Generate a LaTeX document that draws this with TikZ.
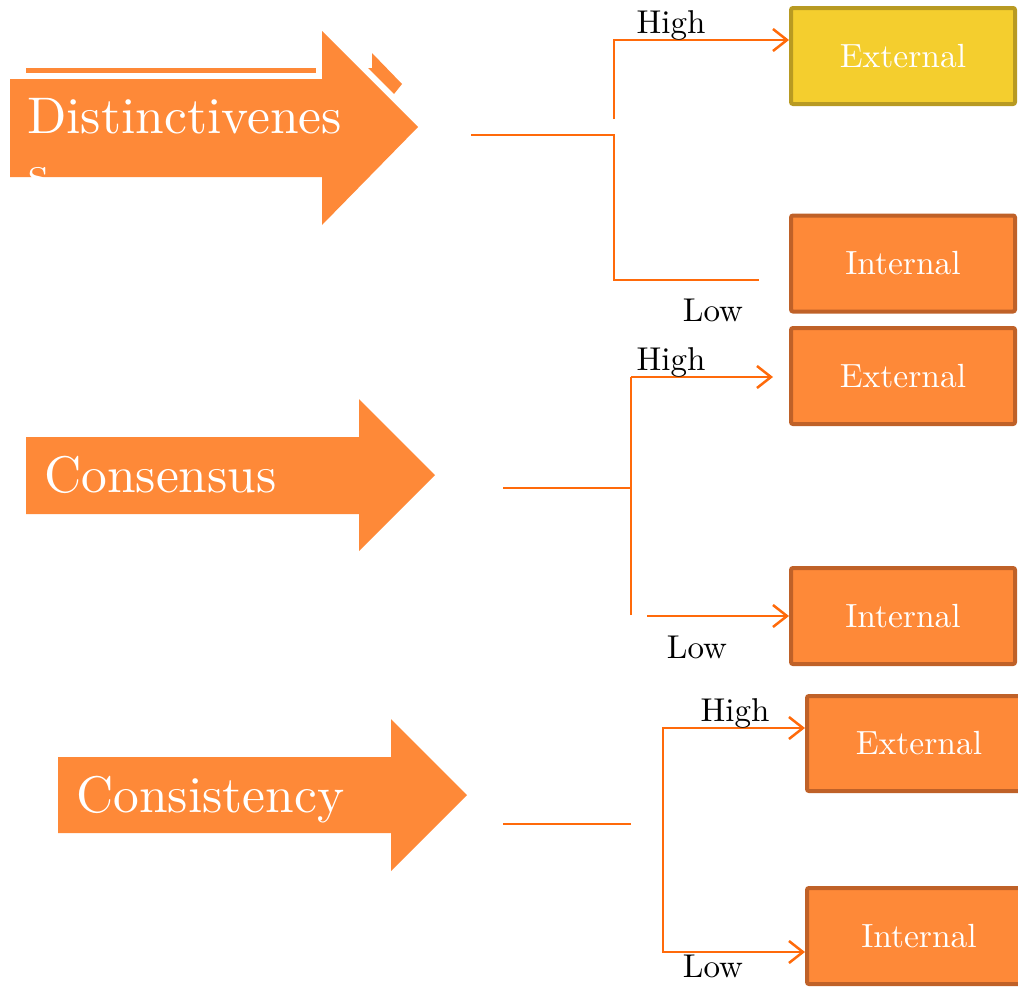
\documentclass[tikz,border=0pt]{standalone}
\usetikzlibrary{arrows.meta}
\definecolor{arrfill}{RGB}{254,137,56}
\definecolor{boxline}{RGB}{191,97,40}
\definecolor{yelfill}{RGB}{244,206,46}
\definecolor{yelline}{RGB}{184,154,34}
\definecolor{conn}{RGB}{255,106,10}
\font\bigrm="[lmroman10-regular]:mapping=tex-text" at 51.5pt
\font\boxrm="[lmroman10-regular]:mapping=tex-text" at 33.5pt
\font\lblrm="[lmroman10-regular]:mapping=tex-text" at 33pt
\tikzset{
  box/.style={draw=boxline, fill=arrfill, line width=4pt, rounded corners=2pt,
    text=white, font=\boxrm, inner sep=0pt,
    minimum width=224pt, minimum height=96pt},
  yelbox/.style={box, draw=yelline, fill=yelfill},
  bigtext/.style={text=white, font=\bigrm, inner sep=0pt, anchor=base west},
  lbl/.style={text=black, font=\lblrm, inner sep=0pt, anchor=base},
  conline/.style={draw=conn, line width=2.5pt},
  conarrow/.style={conline, -{Straight Barb[length=14pt,width=22pt,line width=2.5pt]}},
  bigarrow/.style={fill=arrfill}
}
\begin{document}
\begin{tikzpicture}[x=1pt,y=-1pt]
\useasboundingbox (0,0) rectangle (1018,988);

% big arrows
\fill[bigarrow] (26,68) rectangle (316,73);
\fill[bigarrow] (372,53) -- (402,84) -- (394,94) -- (368,68) -- (372,68) -- cycle;
\fill[bigarrow] (10,79) -- (322,79) -- (322,31) -- (418,127) -- (322,225) -- (322,177) -- (10,177) -- cycle;
\fill[bigarrow] (26,437) -- (359,437) -- (359,399) -- (435,475) -- (359,551) -- (359,514) -- (26,514) -- cycle;
\fill[bigarrow] (58,757) -- (391,757) -- (391,719) -- (467,795) -- (391,871) -- (391,833) -- (58,833) -- cycle;

\node[bigtext] (t1) at (27,133) {Distinctivenes};
\node[bigtext] (t1b) at (28,190) {s};
\node[bigtext] (t2) at (44,492) {Consensus};
\node[bigtext] (t3) at (76,812) {Consistency};

% boxes
\node[yelbox] (ext1) at (903,56) {External};
\node[box] (int1) at (903,263.5) {Internal};
\node[box] (ext2) at (903,376) {External};
\node[box] (int2) at (903,616) {Internal};
\node[box, minimum height=95pt] (ext3) at (919,743.5) {External};
\node[box] (int3) at (919,936) {Internal};

% group 1
\coordinate (s1) at (471,135);
\coordinate (j1) at (614,135);
\coordinate (l1) at (614,280);
\coordinate (l1e) at (759,280);
\coordinate (u1) at (614,119);
\coordinate (h1) at (614,40);
\draw[conline] (s1) -- (j1) -- (l1) -- (l1e);
\draw[conarrow] (u1) -- (h1) -- (h1 -| ext1.west);
\node[lbl] (hi1) at (671,33) {High};
\node[lbl] (lo1) at (713,321) {Low};

% group 2
\coordinate (s2) at (503,488);
\coordinate (j2) at (631,488);
\coordinate (v2t) at (631,377);
\coordinate (v2b) at (631,615);
\coordinate (e2) at (773,377);
\coordinate (b2) at (647,616);
\draw[conline] (s2) -- (j2);
\draw[conline] (v2b) -- (v2t);
\draw[conarrow] (v2t) -- (e2);
\draw[conarrow] (b2) -- (b2 -| int2.west);
\node[lbl] (hi2) at (671,370) {High};
\node[lbl] (lo2) at (697,658) {Low};

% group 3
\coordinate (s3) at (503,824);
\coordinate (j3) at (631,824);
\coordinate (v3t) at (663,728);
\coordinate (v3b) at (663,952);
\draw[conline] (s3) -- (j3);
\draw[conarrow] (v3b) -- (v3t) -- (v3t -| ext3.west);
\draw[conarrow] (v3t) -- (v3b) -- (v3b -| int3.west);
\node[lbl] (hi3) at (735,721) {High};
\node[lbl] (lo3) at (713,977) {Low};
\end{tikzpicture}
\end{document}
